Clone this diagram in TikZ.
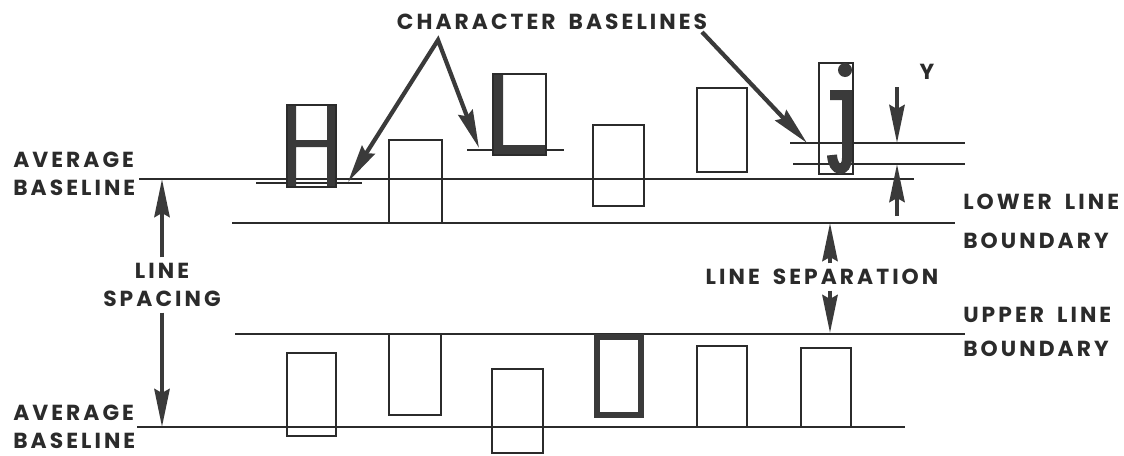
\documentclass[tikz,border=0pt]{standalone}
\usepackage{fontspec}
\setmainfont{Poppins}[LetterSpace=14, WordSpace=1.7]
\usetikzlibrary{arrows.meta}
\definecolor{tinta}{HTML}{2B2B2B}
\definecolor{traco}{HTML}{3A3A3A}

\begin{document}
\begin{tikzpicture}[x=0.025cm,y=-0.025cm, >={Stealth[length=0.95cm,width=0.38cm,inset=0.1cm]}]
% Estilos
\tikzset{
  rotulo/.style={font=\bfseries\fontsize{15.5}{20}\selectfont, text=tinta, inner sep=0pt},
  linha/.style={draw=tinta, line width=0.8pt},
  caixa/.style={draw=tinta, line width=0.8pt},
  seta/.style={draw=traco, line width=3pt, ->},
  setadupla/.style={draw=traco, line width=3pt, <->}
}
\useasboundingbox (0,0) rectangle (1124,455);

% Linhas de base medias e limites
\draw[linha] (139,179) -- (914,179);
\draw[linha] (137,427) -- (905,427);
\draw[linha] (232,223) -- (955,223);
\draw[linha] (235,334) -- (965,334);

% Linhas de base dos caracteres
\draw[linha] (256,183) -- (362,183);
\draw[linha] (467,150) -- (564,150);
\draw[linha] (790,143) -- (965,143);
\draw[linha] (793,164) -- (965,164);

% Linha de cima: H
\fill[traco] (287,105) rectangle (296,187) (327,105) rectangle (336,187) (296,140) rectangle (327,147);
\draw[caixa] (287,105) rectangle (336,187);
\draw[caixa] (389,140) rectangle (442,223);
% Linha de cima: L
\fill[traco] (493,74) rectangle (503,155) (493,145) rectangle (546,155);
\draw[caixa] (493,74) rectangle (546,155);
\draw[caixa] (593,125) rectangle (644,206);
\draw[caixa] (697,88) rectangle (747,172);
% Linha de cima: j
\draw[caixa] (819,63) rectangle (853,174);
\fill[traco] (845,70) circle (7);
\draw[traco, line width=0.25cm] (830,95) -- (847,95) -- (847,158) .. controls (847,173) and (833,173) .. (832,155);

% Linha de baixo
\draw[caixa] (287,353) rectangle (336,436);
\draw[caixa] (389,334) rectangle (441,415);
\draw[caixa] (492,369) rectangle (543,453);
\draw[traco, line width=0.17cm] (597,337) rectangle (641,415);
\draw[caixa] (697,346) rectangle (747,427);
\draw[caixa] (801,348) rectangle (851,427);

% Rotulos
\node[rotulo] (titulo) at (552,22) {CHARACTER BASELINES};
\node[rotulo, anchor=west, align=left] (media1) at (13,174) {AVERAGE\\BASELINE};
\node[rotulo, anchor=west, align=left] (media2) at (13,427) {AVERAGE\\BASELINE};
\node[rotulo, align=center, inner sep=4pt] (espaco) at (162,285) {LINE\\SPACING};
\node[rotulo, anchor=west, align=left] (inferior) at (963,221) {LOWER LINE\\[8pt]BOUNDARY};
\node[rotulo, anchor=west, align=left] (superior) at (963,332) {UPPER LINE\\[4pt]BOUNDARY};
\node[rotulo, inner sep=4pt] (separacao) at (822,277) {LINE SEPARATION};
\node[rotulo] (ylab) at (927,72) {Y};

% Pontos
\coordinate (hbase) at (348,182);
\coordinate (lbase) at (479,148);
\coordinate (jbase) at (807,143);
\coordinate (jini) at (702,32);
\coordinate (med1) at (162,179);
\coordinate (med2) at (162,427);
\coordinate (sep1) at (830,223);
\coordinate (sep2) at (830,333);
\coordinate (yini) at (897,87);
\coordinate (ytopo) at (897,143);
\coordinate (yfim) at (897,216);
\coordinate (ybase) at (897,164);

% Setas
\draw[setadupla] (hbase) -- (438,40) -- (lbase);
\draw[seta] (jini) -- (jbase);
\draw[seta] (espaco.north) -- (med1);
\draw[seta] (espaco.south) -- (med2);
\draw[seta] (separacao.north -| sep1) -- (sep1);
\draw[seta] (separacao.south -| sep2) -- (sep2);
\draw[seta] (yini) -- (ytopo);
\draw[seta] (yfim) -- (ybase);

\end{tikzpicture}
\end{document}
